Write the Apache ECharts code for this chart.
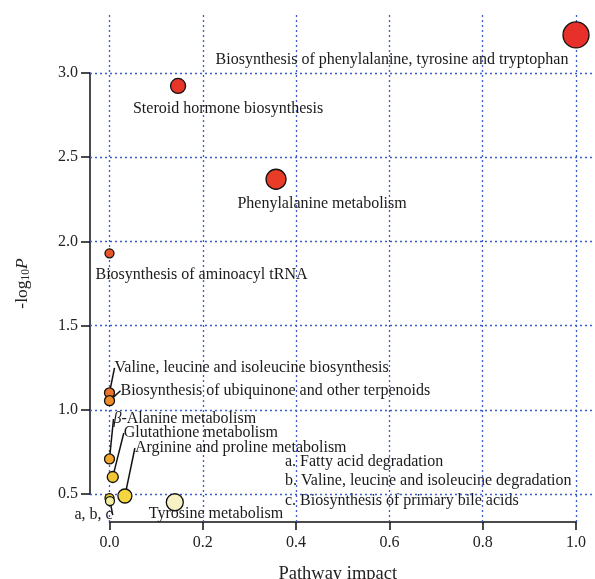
<!DOCTYPE html>
<html>
<head>
<meta charset="utf-8">
<script src="https://cdn.jsdelivr.net/npm/echarts@6/dist/echarts.min.js"></script>
<style>
  html, body { margin: 0; padding: 0; background: #fff; }
  #main { width: 595px; height: 579px; }
</style>
</head>
<body>
<div id="main"></div>
<script>
var myChart = echarts.init(document.getElementById('main'));

// Pathway data
const pathways = [
    'Biosynthesis of phenylalanine, tyrosine and tryptophan',
    'Steroid hormone biosynthesis',
    'Phenylalanine metabolism',
    'Biosynthesis of aminoacyl tRNA',
    'Valine, leucine and isoleucine biosynthesis',
    'Biosynthesis of ubiquinone and other terpenoids',
    '{b|β}-Alanine metabolism',
    'Glutathione metabolism',
    'Arginine and proline metabolism',
    'Tyrosine metabolism',
    'a, b, c',
    ''
];
const impact = [1.0, 0.147, 0.357, 0.0, 0.0, 0.0, 0.0, 0.007, 0.033, 0.140, 0.0, 0.001];
const logP = [3.226, 2.923, 2.369, 1.929, 1.101, 1.054, 0.708, 0.601, 0.488, 0.451, 0.476, 0.458];
const footnotes = [
    'a. Fatty acid degradation',
    'b. Valine, leucine and isoleucine degradation',
    'c. Biosynthesis of primary bile acids'
];

// styling per point (size, fill, label placement relative to point)
const sizes = [26, 15, 20, 9, 10, 10, 10, 11, 14, 17, 9, 9];
const fills = ['#e8302a', '#e8352a', '#e83c28', '#e8562a', '#ea722a', '#ee8c2c',
               '#f2a630', '#f2c634', '#f6d640', '#f6f2c4', '#e8c83a', '#f2eea4'];
const labelPos = [
    [-184, 24, 'center'], [50, 22, 'center'], [46, 24, 'center'], [-14, 20, 'left'],
    [5, -26, 'left'], [11, -11, 'left'], [4, -41, 'left'], [11, -45, 'left'],
    [10, -49, 'left'], [-26, 11, 'left'], [-35, 16, 'left'], [0, 0, 'left']
];
const withLeader = [false, false, false, false, true, true, true, true, true, false, true, false];

const serif = 'Liberation Serif';
const gridStyle = { color: '#3a5ccc', width: 1.3, type: [2, 3] };

var points = impact.map((x, i) => ({
    value: [x, logP[i]],
    symbolSize: sizes[i],
    itemStyle: { color: fills[i] },
    label: {
        show: pathways[i] !== '',
        formatter: pathways[i],
        align: labelPos[i][2]
    },
    labelLine: { show: withLeader[i] }
}));

var option = {
    animation: false,
    grid: { left: 109.5, right: 19, top: 73, bottom: 85, outerBoundsMode: 'none', containLabel: false },
    xAxis: [
        {
            type: 'value', min: 0, max: 1, interval: 0.2,
            position: 'bottom', offset: 28,
            axisLine: { show: true, onZero: false, lineStyle: { color: '#111', width: 1.5 } },
            axisTick: { show: true, length: 8, lineStyle: { color: '#111', width: 1.5 } },
            axisLabel: {
                fontFamily: serif, fontSize: 16, color: '#222', margin: 13,
                formatter: v => v.toFixed(1)
            },
            splitLine: { show: false },
            name: 'Pathway impact', nameLocation: 'middle', nameGap: 43,
            nameTextStyle: { fontFamily: serif, fontSize: 18.5, color: '#222', padding: [0, 10, 0, 0] }
        },
        {
            type: 'value', min: 0, max: 1, interval: 0.2,
            position: 'bottom', offset: 28,
            axisLine: { show: false, onZero: false },
            axisTick: { show: true, inside: true, length: 507, lineStyle: gridStyle },
            axisLabel: { show: false },
            splitLine: { show: false }
        }
    ],
    yAxis: [
        {
            type: 'value', min: 0.5, max: 3.0, interval: 0.5,
            position: 'left', offset: 19.5,
            axisLine: { show: true, onZero: false, lineStyle: { color: '#111', width: 1.5 } },
            axisTick: { show: true, length: 9, lineStyle: { color: '#111', width: 1.5 } },
            axisLabel: {
                fontFamily: serif, fontSize: 16, color: '#222', margin: 12,
                formatter: v => v.toFixed(1)
            },
            splitLine: { show: false },
            name: '-log{s|10}{i|P}', nameLocation: 'middle', nameGap: 58,
            nameTextStyle: {
                fontFamily: serif, fontSize: 17.5, color: '#222',
                rich: {
                    s: { fontFamily: serif, fontSize: 11.5, color: '#222', padding: [7, 0, 0, 0] },
                    i: { fontFamily: serif, fontSize: 17.5, fontStyle: 'italic', color: '#222' }
                }
            }
        },
        {
            type: 'value', min: 0.5, max: 3.0, interval: 0.5,
            position: 'left', offset: 19.5,
            axisLine: { show: false, onZero: false },
            axisTick: { show: true, inside: true, length: 505, lineStyle: gridStyle },
            axisLabel: { show: false },
            splitLine: { show: false }
        }
    ],
    series: [
        {
            type: 'scatter',
            clip: false,
            data: points,
            itemStyle: { borderColor: '#111', borderWidth: 1.3, opacity: 1 },
            label: {
                show: true,
                position: 'inside',
                verticalAlign: 'middle',
                fontFamily: serif,
                fontSize: 16,
                color: '#1a1a1a',
                rich: { b: { fontFamily: serif, fontSize: 16, fontStyle: 'italic', color: '#1a1a1a' } }
            },
            labelLine: { lineStyle: { color: '#111', width: 1.5 }, smooth: false, minTurnAngle: 0 },
            labelLayout: p => ({ dx: labelPos[p.dataIndex][0], dy: labelPos[p.dataIndex][1] + 1 }),
            emphasis: { disabled: true }
        }
    ],
    graphic: [
        {
            type: 'text',
            left: 285,
            top: 452,
            style: {
                text: footnotes.join('\n'),
                font: '16px "Liberation Serif"',
                lineHeight: 19.5,
                fill: '#1a1a1a'
            }
        }
    ]
};

myChart.setOption(option);
</script>
</body>
</html>
